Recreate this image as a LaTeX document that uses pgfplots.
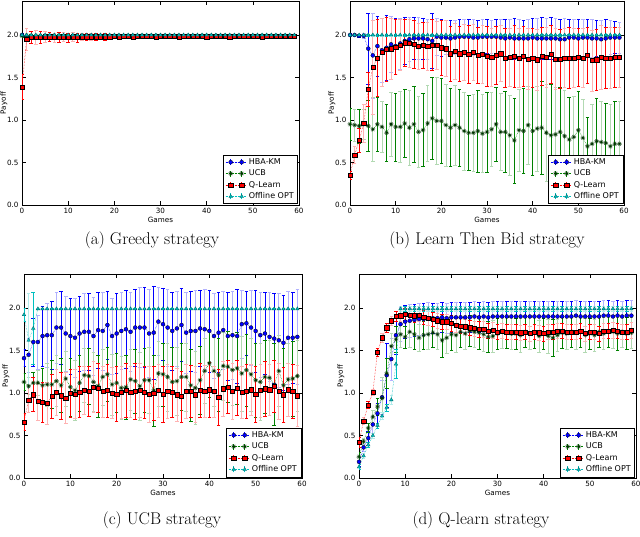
\documentclass[border=0pt]{standalone}
\usepackage{fontspec}
\usepackage{pgfplots}
\usepackage{pgfplotstable}
\pgfplotsset{compat=1.18}
\newfontfamily\dejavu{DejaVu Sans}
\newcommand\axf{\dejavu\fontsize{7.2}{8.5}\selectfont}
\newcommand\axl{\dejavu\fontsize{8}{9.5}\selectfont}
\definecolor{mb}{rgb}{0,0,1}
\definecolor{mg}{rgb}{0,0.5,0}
\definecolor{mr}{rgb}{1,0,0}
\definecolor{mc}{rgb}{0,0.75,0.75}

% columns: game, HBA-KM, err, UCB, err, Q-Learn, err, Offline OPT, err
\pgfplotstableread{
x h he u ue q qe o oe
0 2.00 0.02 1.99 0.02 1.39 0.15 2.00 0.00
1 1.98 0.03 1.99 0.03 1.95 0.13 2.00 0.00
2 1.98 0.03 1.99 0.02 1.97 0.07 2.00 0.00
3 1.98 0.03 1.99 0.02 1.97 0.08 2.00 0.00
4 1.98 0.03 1.99 0.02 1.97 0.07 2.00 0.00
5 1.98 0.03 1.99 0.02 1.98 0.06 2.00 0.00
6 1.98 0.03 1.99 0.02 1.98 0.05 2.00 0.00
7 1.98 0.03 1.99 0.02 1.97 0.05 2.00 0.00
8 1.98 0.03 1.99 0.02 1.97 0.06 2.00 0.00
9 1.98 0.03 1.99 0.02 1.98 0.05 2.00 0.00
10 1.98 0.03 1.99 0.02 1.97 0.05 2.00 0.00
11 1.98 0.03 1.99 0.02 1.98 0.05 2.00 0.00
12 1.98 0.03 1.99 0.02 1.97 0.05 2.00 0.00
13 1.98 0.03 1.99 0.02 1.98 0.04 2.00 0.00
14 1.99 0.02 1.99 0.02 1.98 0.04 2.00 0.00
15 1.99 0.02 1.99 0.02 1.98 0.04 2.00 0.00
16 1.99 0.02 1.99 0.02 1.98 0.04 2.00 0.00
17 1.99 0.02 1.99 0.02 1.98 0.03 2.00 0.00
18 1.99 0.02 1.99 0.02 1.98 0.04 2.00 0.00
19 1.99 0.02 1.99 0.02 1.98 0.03 2.00 0.00
20 1.99 0.015 1.99 0.01 1.99 0.02 2.00 0.00
21 1.99 0.015 1.99 0.01 1.98 0.02 2.00 0.00
22 1.99 0.015 1.99 0.01 1.99 0.02 2.00 0.00
23 1.99 0.015 1.99 0.01 1.99 0.02 2.00 0.00
24 1.99 0.015 1.99 0.01 1.98 0.02 2.00 0.00
25 1.99 0.015 1.99 0.01 1.99 0.02 2.00 0.00
26 1.99 0.015 1.99 0.01 1.99 0.02 2.00 0.00
27 1.99 0.015 1.99 0.01 1.99 0.02 2.00 0.00
28 1.99 0.015 1.99 0.01 1.99 0.02 2.00 0.00
29 1.99 0.015 1.99 0.01 1.98 0.02 2.00 0.00
30 1.99 0.015 1.99 0.01 1.99 0.02 2.00 0.00
31 1.99 0.015 1.99 0.01 1.99 0.02 2.00 0.00
32 1.99 0.015 1.99 0.01 1.99 0.02 2.00 0.00
33 1.99 0.015 1.99 0.01 1.99 0.02 2.00 0.00
34 1.99 0.015 1.99 0.01 1.98 0.02 2.00 0.00
35 1.99 0.015 1.99 0.01 1.99 0.02 2.00 0.00
36 1.99 0.015 1.99 0.01 1.99 0.02 2.00 0.00
37 1.99 0.015 1.99 0.01 1.99 0.02 2.00 0.00
38 1.99 0.015 1.99 0.01 1.99 0.02 2.00 0.00
39 1.99 0.015 1.99 0.01 1.99 0.02 2.00 0.00
40 1.99 0.015 1.99 0.01 1.98 0.02 2.00 0.00
41 1.99 0.015 1.99 0.01 1.99 0.02 2.00 0.00
42 1.99 0.015 1.99 0.01 1.99 0.02 2.00 0.00
43 1.99 0.015 1.99 0.01 1.99 0.02 2.00 0.00
44 1.99 0.015 1.99 0.01 1.99 0.02 2.00 0.00
45 1.99 0.015 1.99 0.01 1.98 0.02 2.00 0.00
46 1.99 0.015 1.99 0.01 1.99 0.02 2.00 0.00
47 1.99 0.015 1.99 0.01 1.99 0.02 2.00 0.00
48 1.99 0.015 1.99 0.01 1.99 0.02 2.00 0.00
49 1.99 0.015 1.99 0.01 1.99 0.02 2.00 0.00
50 1.99 0.015 1.99 0.01 1.99 0.02 2.00 0.00
51 1.99 0.015 1.99 0.01 1.99 0.02 2.00 0.00
52 1.99 0.015 1.99 0.01 1.98 0.02 2.00 0.00
53 1.99 0.015 1.99 0.01 1.99 0.02 2.00 0.00
54 1.99 0.015 1.99 0.01 1.99 0.02 2.00 0.00
55 1.99 0.015 1.99 0.01 1.99 0.02 2.00 0.00
56 1.99 0.015 1.99 0.01 1.99 0.02 2.00 0.00
57 1.99 0.015 1.99 0.01 1.99 0.02 2.00 0.00
58 1.99 0.015 1.99 0.01 1.99 0.02 2.00 0.00
59 1.99 0.015 1.99 0.01 1.99 0.02 2.00 0.00
}\tA

\pgfplotstableread{
x h he u ue q qe o oe
0 2.00 0.02 0.95 0.19 0.35 0.05 2.00 0.01
1 2.00 0.02 0.94 0.19 0.59 0.10 2.00 0.01
2 1.99 0.02 0.93 0.20 0.76 0.14 2.00 0.01
3 1.99 0.03 0.95 0.18 0.96 0.22 2.00 0.01
4 1.84 0.42 0.93 0.30 1.36 0.20 2.00 0.01
5 1.76 0.50 0.89 0.38 1.62 0.55 2.00 0.01
6 1.87 0.35 0.95 0.32 1.73 0.45 2.00 0.01
7 1.82 0.38 0.92 0.30 1.80 0.40 2.00 0.01
8 1.85 0.38 0.85 0.33 1.83 0.38 2.00 0.01
9 1.89 0.33 0.95 0.38 1.84 0.36 2.00 0.01
10 1.87 0.33 0.92 0.40 1.86 0.32 2.00 0.01
11 1.90 0.30 0.92 0.42 1.88 0.30 2.00 0.01
12 1.93 0.28 0.96 0.40 1.91 0.28 2.00 0.01
13 1.95 0.26 0.91 0.44 1.90 0.28 2.00 0.01
14 1.96 0.25 0.95 0.45 1.89 0.28 2.00 0.01
15 1.96 0.25 0.86 0.42 1.87 0.27 2.00 0.01
16 1.96 0.24 0.88 0.43 1.88 0.27 2.00 0.01
17 1.95 0.24 0.96 0.45 1.87 0.28 2.00 0.01
18 1.93 0.32 1.02 0.48 1.88 0.30 2.00 0.01
19 1.98 0.22 0.99 0.51 1.88 0.28 2.00 0.01
20 1.97 0.22 0.99 0.50 1.85 0.32 2.00 0.01
21 1.97 0.20 0.94 0.48 1.84 0.33 2.00 0.01
22 1.96 0.21 0.91 0.46 1.78 0.32 2.00 0.01
23 1.97 0.20 0.94 0.47 1.81 0.33 2.00 0.01
24 1.98 0.20 0.91 0.45 1.78 0.32 2.00 0.01
25 1.98 0.21 0.87 0.46 1.80 0.33 2.00 0.01
26 1.98 0.20 0.85 0.44 1.77 0.34 2.00 0.01
27 1.97 0.21 0.85 0.45 1.80 0.33 2.00 0.01
28 1.97 0.20 0.87 0.48 1.76 0.33 2.00 0.01
29 1.98 0.20 0.84 0.46 1.77 0.34 2.00 0.01
30 1.98 0.20 0.86 0.47 1.75 0.35 2.00 0.01
31 1.98 0.19 0.89 0.44 1.74 0.34 2.00 0.01
32 1.98 0.20 0.95 0.43 1.76 0.34 2.00 0.01
33 1.97 0.21 0.86 0.45 1.78 0.33 2.00 0.01
34 1.96 0.22 0.86 0.48 1.73 0.35 2.00 0.01
35 1.97 0.21 0.82 0.47 1.74 0.34 2.00 0.01
36 1.96 0.24 0.76 0.50 1.75 0.36 2.00 0.01
37 1.96 0.22 0.88 0.48 1.73 0.35 2.00 0.01
38 1.96 0.21 0.87 0.50 1.75 0.35 2.00 0.01
39 1.96 0.22 0.94 0.46 1.72 0.36 2.00 0.01
40 1.97 0.23 0.87 0.52 1.73 0.35 2.00 0.01
41 1.96 0.24 0.90 0.50 1.71 0.36 2.00 0.01
42 1.96 0.25 0.91 0.55 1.75 0.34 2.00 0.01
43 1.96 0.24 0.85 0.57 1.74 0.35 2.00 0.01
44 1.96 0.25 0.82 0.60 1.77 0.34 2.00 0.01
45 1.96 0.24 0.83 0.55 1.72 0.36 2.00 0.01
46 1.95 0.24 0.86 0.52 1.72 0.35 2.00 0.01
47 1.95 0.25 0.81 0.54 1.73 0.35 2.00 0.01
48 1.97 0.22 0.77 0.50 1.73 0.36 2.00 0.01
49 1.97 0.22 0.80 0.48 1.73 0.35 2.00 0.01
50 1.96 0.23 0.88 0.46 1.74 0.34 2.00 0.01
51 1.97 0.22 0.79 0.45 1.73 0.35 2.00 0.01
52 1.97 0.21 0.69 0.34 1.76 0.33 2.00 0.01
53 1.96 0.22 0.72 0.46 1.70 0.36 2.00 0.01
54 1.96 0.21 0.75 0.50 1.71 0.36 2.00 0.01
55 1.95 0.22 0.74 0.48 1.74 0.38 2.00 0.01
56 1.96 0.23 0.73 0.47 1.73 0.36 2.00 0.01
57 1.97 0.20 0.69 0.50 1.73 0.36 2.00 0.01
58 1.97 0.19 0.72 0.50 1.74 0.35 2.00 0.01
59 1.97 0.18 0.72 0.50 1.74 0.35 2.00 0.01
}\tB

\pgfplotstableread{
x h he u ue q qe o oe
0 1.41 0.10 1.13 0.10 0.66 0.10 1.92 0.08
1 1.45 0.20 1.08 0.10 0.92 0.15 1.62 0.55
2 1.60 0.28 1.12 0.12 0.98 0.20 1.76 0.42
3 1.60 0.32 1.12 0.15 0.90 0.22 1.99 0.01
4 1.67 0.35 1.09 0.20 0.89 0.24 1.99 0.01
5 1.68 0.38 1.10 0.25 0.88 0.25 1.99 0.01
6 1.68 0.40 1.10 0.28 0.96 0.26 1.99 0.01
7 1.77 0.42 1.14 0.30 1.01 0.27 1.99 0.01
8 1.77 0.43 1.09 0.32 0.97 0.28 1.99 0.01
9 1.70 0.44 1.17 0.32 0.94 0.30 1.99 0.01
10 1.67 0.45 1.07 0.34 1.00 0.28 1.99 0.01
11 1.65 0.47 1.03 0.35 0.99 0.29 1.99 0.01
12 1.70 0.44 1.12 0.33 1.01 0.30 1.99 0.01
13 1.72 0.45 1.21 0.32 1.03 0.28 1.99 0.01
14 1.72 0.45 1.20 0.33 1.02 0.29 1.99 0.01
15 1.67 0.46 1.13 0.35 1.07 0.30 1.99 0.01
16 1.74 0.45 1.08 0.36 1.06 0.29 1.99 0.01
17 1.73 0.46 1.19 0.33 1.02 0.30 1.99 0.01
18 1.80 0.40 1.22 0.32 1.03 0.31 1.99 0.01
19 1.67 0.45 1.10 0.36 1.00 0.30 1.99 0.01
20 1.70 0.47 1.12 0.35 0.99 0.32 1.99 0.01
21 1.73 0.45 1.06 0.37 1.01 0.31 1.99 0.01
22 1.75 0.46 1.07 0.38 1.03 0.32 1.99 0.01
23 1.72 0.46 1.16 0.36 1.01 0.30 1.99 0.01
24 1.77 0.45 1.14 0.38 1.02 0.33 1.99 0.01
25 1.77 0.47 1.08 0.40 1.03 0.32 1.99 0.01
26 1.77 0.47 1.15 0.38 1.01 0.31 1.99 0.01
27 1.70 0.52 1.15 0.39 0.99 0.33 1.99 0.01
28 1.71 0.55 1.03 0.42 1.00 0.32 1.99 0.01
29 1.84 0.40 1.23 0.38 1.03 0.31 1.99 0.01
30 1.81 0.42 1.22 0.37 0.99 0.33 1.99 0.01
31 1.77 0.45 1.19 0.40 1.02 0.32 1.99 0.01
32 1.73 0.46 1.13 0.41 1.01 0.30 1.99 0.01
33 1.76 0.44 1.14 0.40 0.98 0.31 1.99 0.01
34 1.80 0.43 1.19 0.39 0.96 0.30 1.99 0.01
35 1.71 0.48 1.19 0.40 1.02 0.32 1.99 0.01
36 1.73 0.47 1.09 0.42 1.02 0.31 1.99 0.01
37 1.73 0.48 1.06 0.43 0.98 0.33 1.99 0.01
38 1.76 0.45 1.15 0.40 1.03 0.32 1.99 0.01
39 1.75 0.47 1.26 0.38 1.02 0.31 1.99 0.01
40 1.73 0.48 1.35 0.40 1.04 0.32 1.99 0.01
41 1.67 0.50 1.26 0.42 1.02 0.30 1.99 0.01
42 1.71 0.47 1.21 0.43 0.95 0.33 1.99 0.01
43 1.74 0.46 1.32 0.40 1.05 0.32 1.99 0.01
44 1.67 0.52 1.31 0.42 1.07 0.31 1.99 0.01
45 1.68 0.52 1.27 0.41 1.02 0.33 1.99 0.01
46 1.67 0.55 1.29 0.42 1.06 0.32 1.99 0.01
47 1.81 0.40 1.23 0.44 1.01 0.31 1.99 0.01
48 1.82 0.38 1.27 0.42 1.02 0.32 1.99 0.01
49 1.77 0.44 1.22 0.43 1.04 0.30 1.99 0.01
50 1.73 0.48 1.15 0.44 0.99 0.33 1.99 0.01
51 1.68 0.50 1.13 0.45 1.03 0.31 1.99 0.01
52 1.70 0.48 1.19 0.43 1.05 0.32 1.99 0.01
53 1.66 0.52 1.18 0.44 1.04 0.30 1.99 0.01
54 1.64 0.53 1.10 0.48 1.08 0.31 1.99 0.01
55 1.62 0.55 1.26 0.42 1.02 0.33 1.99 0.01
56 1.59 0.56 1.09 0.44 0.98 0.32 1.99 0.01
57 1.65 0.55 1.16 0.43 1.04 0.31 1.99 0.01
58 1.65 0.54 1.17 0.44 1.02 0.32 1.99 0.01
59 1.66 0.56 1.20 0.42 0.97 0.36 1.99 0.01
}\tC

\pgfplotstableread{
x h he u ue q qe o oe
0 0.19 0.05 0.25 0.05 0.42 0.06 0.13 0.03
1 0.36 0.04 0.43 0.04 0.67 0.04 0.26 0.03
2 0.47 0.08 0.59 0.05 0.86 0.04 0.39 0.03
3 0.63 0.10 0.72 0.08 1.01 0.04 0.50 0.03
4 0.76 0.12 0.84 0.10 1.48 0.05 0.62 0.03
5 0.95 0.20 0.94 0.25 1.65 0.05 0.73 0.04
6 1.21 0.38 1.23 0.18 1.77 0.05 0.83 0.04
7 1.40 0.25 1.55 0.15 1.85 0.05 0.92 0.05
8 1.68 0.22 1.63 0.15 1.90 0.06 1.34 0.17
9 1.81 0.20 1.69 0.15 1.91 0.07 1.99 0.03
10 1.84 0.19 1.66 0.13 1.93 0.07 1.99 0.03
11 1.85 0.19 1.72 0.18 1.92 0.08 1.99 0.03
12 1.86 0.19 1.69 0.17 1.91 0.08 1.99 0.03
13 1.87 0.19 1.65 0.16 1.92 0.08 1.99 0.03
14 1.87 0.19 1.68 0.17 1.89 0.08 1.99 0.03
15 1.88 0.19 1.69 0.18 1.88 0.08 1.99 0.03
16 1.88 0.18 1.71 0.17 1.87 0.08 1.99 0.03
17 1.88 0.18 1.69 0.18 1.85 0.09 1.99 0.03
18 1.89 0.18 1.62 0.20 1.84 0.09 1.99 0.03
19 1.88 0.18 1.65 0.18 1.84 0.09 1.99 0.03
20 1.89 0.18 1.69 0.19 1.82 0.09 1.99 0.03
21 1.89 0.18 1.68 0.20 1.80 0.09 1.99 0.03
22 1.89 0.18 1.72 0.18 1.79 0.09 1.99 0.03
23 1.89 0.18 1.70 0.19 1.78 0.09 1.99 0.03
24 1.89 0.18 1.73 0.18 1.77 0.09 1.99 0.03
25 1.90 0.18 1.72 0.18 1.76 0.09 1.99 0.03
26 1.89 0.18 1.71 0.19 1.75 0.09 1.99 0.03
27 1.90 0.18 1.69 0.20 1.75 0.09 1.99 0.03
28 1.89 0.18 1.66 0.18 1.73 0.09 1.99 0.03
29 1.90 0.18 1.67 0.19 1.74 0.09 1.99 0.03
30 1.90 0.18 1.70 0.18 1.72 0.09 1.99 0.03
31 1.90 0.18 1.72 0.19 1.73 0.09 1.99 0.03
32 1.90 0.18 1.71 0.18 1.72 0.09 1.99 0.03
33 1.90 0.18 1.70 0.19 1.72 0.09 1.99 0.03
34 1.90 0.18 1.70 0.18 1.72 0.09 1.99 0.03
35 1.90 0.18 1.68 0.20 1.71 0.09 1.99 0.03
36 1.90 0.18 1.72 0.18 1.72 0.09 1.99 0.03
37 1.90 0.18 1.70 0.19 1.70 0.09 1.99 0.03
38 1.90 0.18 1.71 0.18 1.72 0.09 1.99 0.03
39 1.90 0.18 1.67 0.19 1.71 0.09 1.99 0.03
40 1.90 0.18 1.70 0.18 1.70 0.09 1.99 0.03
41 1.90 0.18 1.67 0.20 1.72 0.09 1.99 0.03
42 1.90 0.18 1.65 0.22 1.72 0.09 1.99 0.03
43 1.90 0.18 1.68 0.19 1.73 0.09 1.99 0.03
44 1.90 0.18 1.71 0.18 1.73 0.09 1.99 0.03
45 1.90 0.18 1.70 0.19 1.72 0.09 1.99 0.03
46 1.90 0.18 1.72 0.18 1.72 0.09 1.99 0.03
47 1.91 0.18 1.71 0.19 1.72 0.09 1.99 0.03
48 1.90 0.18 1.72 0.18 1.73 0.09 1.99 0.03
49 1.90 0.18 1.68 0.20 1.70 0.09 1.99 0.03
50 1.90 0.18 1.70 0.18 1.72 0.09 1.99 0.03
51 1.90 0.18 1.68 0.19 1.72 0.09 1.99 0.03
52 1.90 0.18 1.72 0.18 1.70 0.09 1.99 0.03
53 1.91 0.18 1.70 0.19 1.73 0.09 1.99 0.03
54 1.91 0.18 1.72 0.18 1.73 0.09 1.99 0.03
55 1.90 0.18 1.72 0.19 1.74 0.09 1.99 0.03
56 1.91 0.18 1.70 0.20 1.73 0.09 1.99 0.03
57 1.90 0.18 1.72 0.18 1.72 0.09 1.99 0.03
58 1.91 0.18 1.70 0.19 1.72 0.09 1.99 0.03
59 1.91 0.18 1.71 0.18 1.74 0.09 1.99 0.03
}\tD

\pgfplotsset{
  base/.style={
    scale only axis, height=204pt,
    xmin=0, xmax=60, ymin=0, ymax=2.4,
    xtick={0,10,...,60}, ytick={0,0.5,1,1.5,2},
    yticklabel style={/pgf/number format/.cd, fixed, fixed zerofill, precision=1},
    /pgf/number format/assume math mode=true,
    tick label style={font=\axf}, label style={font=\axf},
    xlabel={Games}, ylabel={Payoff},
    xlabel style={at={(axis description cs:0.5,0)}, anchor=center, yshift=-15pt},
    ylabel style={at={(axis description cs:0,0.5)}, anchor=center, yshift=18pt},
    tick align=inside, major tick length=4pt,
    axis line style={line width=0.6pt},
    every tick/.style={black, line width=0.5pt},
    legend style={at={(1,0)}, anchor=south east, xshift=-1pt, yshift=1pt,
      font=\axl, draw=black, line width=0.5pt, inner xsep=2pt, inner ysep=1.5pt,
      row sep=0pt, cells={anchor=west}},
    legend image code/.code={
      \draw[#1, mark=none] (0pt,0pt) -- (21pt,0pt);
      \draw[#1, solid, mark=none, line width=0.8pt] (5pt,-3pt) -- (5pt,3pt) (16pt,-3pt) -- (16pt,3pt);
      \path[#1] plot[only marks] coordinates {(5pt,0pt) (16pt,0pt)};
    },
  },
  ebar/.style 2 args={forget plot, draw=none, mark=none,
    x filter/.expression={abs(mod(x,2)-#2)<0.5 ? x : nan},
    /pgfplots/error bars/y dir=both, /pgfplots/error bars/y explicit,
    /pgfplots/error bars/error bar style={draw=#1, solid, line width=0.8pt},
    /pgfplots/error bars/error mark options={rotate=90, draw=#1, mark size=1.8pt, line width=0.5pt, solid}},
  sh/.style={mb, densely dotted, line width=0.5pt, mark=*, mark size=2pt,
    mark options={solid, fill=mb, draw=black, line width=0.3pt}},
  su/.style={mg, densely dotted, line width=0.5pt, mark=10-pointed star, mark size=2.4pt,
    mark options={solid, fill=mg, draw=black!60!mg, line width=0.3pt}},
  sq/.style={mr, densely dotted, line width=0.5pt, mark=square*, mark size=2.1pt,
    mark options={solid, fill=mr, draw=black, line width=0.3pt}},
  so/.style={mc, densely dotted, line width=0.5pt, mark=triangle*, mark size=2.1pt,
    mark options={solid, fill=mc, draw=black!50!mc, line width=0.3pt}},
}

\newcommand\allseries[1]{
  \addplot[ebar={mb}{0}] table[x=x, y=h, y error=he] {#1};
  \addplot[ebar={mb!30!white}{1}] table[x=x, y=h, y error=he] {#1};
  \addplot[ebar={mg}{0}] table[x=x, y=u, y error=ue] {#1};
  \addplot[ebar={mg!30!white}{1}] table[x=x, y=u, y error=ue] {#1};
  \addplot[ebar={mr}{0}] table[x=x, y=q, y error=qe] {#1};
  \addplot[ebar={mr!30!white}{1}] table[x=x, y=q, y error=qe] {#1};
  \addplot[ebar={mc}{0}] table[x=x, y=o, y error=oe] {#1};
  \addplot[ebar={mc!30!white}{1}] table[x=x, y=o, y error=oe] {#1};
  \addplot[sh] table[x=x, y=h] {#1}; \addlegendentry{HBA-KM}
  \addplot[su] table[x=x, y=u] {#1}; \addlegendentry{UCB}
  \addplot[sq] table[x=x, y=q] {#1}; \addlegendentry{Q-Learn}
  \addplot[so] table[x=x, y=o] {#1}; \addlegendentry{Offline OPT}
}

\begin{document}
\begin{tikzpicture}
\useasboundingbox (0,0) rectangle (640pt,536pt);

\begin{axis}[base, width=277pt, at={(22pt,331pt)}, anchor=south west]
  \allseries{\tA}
\end{axis}

\begin{axis}[base, width=274pt, at={(350pt,331pt)}, anchor=south west]
  \allseries{\tB}
\end{axis}

\begin{axis}[base, width=278pt, at={(24pt,58pt)}, anchor=south west]
  \allseries{\tC}
\end{axis}

\begin{axis}[base, width=277pt, at={(359pt,58pt)}, anchor=south west]
  \allseries{\tD}
\end{axis}

\begin{scope}[every node/.style={font=\fontsize{17}{20}\selectfont}]
  \node at (152pt,296pt) {(a) Greedy strategy};
  \node at (487pt,296pt) {(b) Learn Then Bid strategy};
  \node at (162pt,16pt) {(c) UCB strategy};
  \node at (481pt,16pt) {(d) Q-learn strategy};
\end{scope}
\end{tikzpicture}
\end{document}
